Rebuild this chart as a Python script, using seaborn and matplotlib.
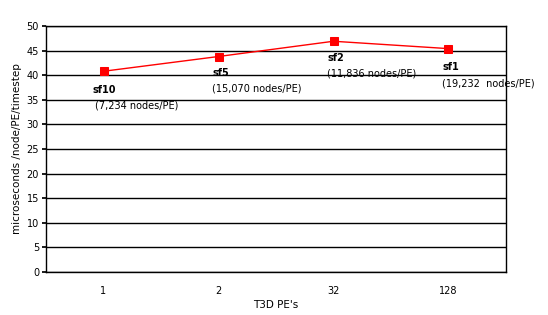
import matplotlib
matplotlib.use("Agg")
import matplotlib.pyplot as plt
import seaborn as sns
import pandas as pd

pes = ["1", "2", "32", "128"]
usec = [40.8, 43.8, 46.9, 45.4]
names = ["sf10", "sf5", "sf2", "sf1"]
nodes = ["(7,234 nodes/PE)", "(15,070 nodes/PE)", "(11,836 nodes/PE)", "(19,232  nodes/PE)"]

df = pd.DataFrame({"pe": pes, "usec": usec})

sns.set_theme(style="white")
plt.rcParams['font.family'] = ['DejaVu Sans']
plt.rcParams['text.color'] = 'black'
plt.rcParams['axes.labelcolor'] = 'black'
plt.rcParams['xtick.color'] = 'black'
plt.rcParams['ytick.color'] = 'black'

fig = plt.figure(figsize=(5.48, 3.15), dpi=100)
ax = fig.add_axes([46/548, 1 - 272/315, 460/548, 246/315])

sns.lineplot(data=df, x="pe", y="usec", ax=ax, color="red", marker="s",
             markersize=6, markeredgecolor="red", linewidth=1, sort=False)

ax.set_ylim(0, 50)
ax.set_xlim(-0.5, 3.5)
ax.set_yticks(range(0, 51, 5))
ax.yaxis.grid(True, color="black", linewidth=1)
ax.xaxis.grid(False)
for s in ax.spines.values():
    s.set_color("black")
    s.set_linewidth(1)
ax.tick_params(axis="y", length=3, color="black", labelsize=7, pad=2, left=True)
ax.tick_params(axis="x", length=0, labelsize=7, pad=10)
ax.set_xlabel("T3D PE's", fontsize=7.5, labelpad=3)
ax.set_ylabel("microseconds /node/PE/timestep", fontsize=7.5, labelpad=3)

offs = [(-11, -18), (-6, -16), (-6, -16), (-6, -18)]
for i, (n, nd) in enumerate(zip(names, nodes)):
    ox, oy = offs[i]
    ax.annotate(n, (i, usec[i]), xytext=(ox * 0.75, oy * 0.75), textcoords="offset points",
                fontsize=7, fontweight="bold", va="center", ha="left")
    ax.annotate(nd, (i, usec[i]), xytext=(ox * 0.75 + (2 if i == 0 else 0), (oy - 15) * 0.75),
                textcoords="offset points", fontsize=7, va="center", ha="left")

fig.savefig("out.png", dpi=100)
